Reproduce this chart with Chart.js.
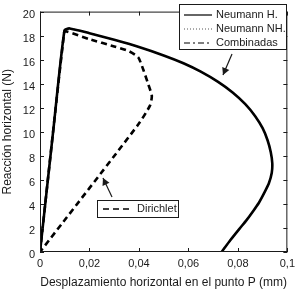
<!DOCTYPE html>
<html>
<head>
<meta charset="utf-8">
<script src="https://cdn.jsdelivr.net/npm/chart.js@4"></script>
<style>
  html, body { margin: 0; padding: 0; background: #fff; }
  #wrap { width: 300px; height: 293px; }
</style>
</head>
<body>
<div id="wrap"><canvas id="c" width="300" height="293"></canvas></div>
<script>
// values
const xTickLabels = ['0', '0,02', '0,04', '0,06', '0,08', '0,1'];
const yTickLabels = ['0', '2', '4', '6', '8', '10', '12', '14', '16', '18', '20'];

const neumannX = [0, 0.0052, 0.0099, 0.012, 0.02, 0.03, 0.04, 0.05, 0.058, 0.065, 0.072, 0.078, 0.083, 0.087, 0.090, 0.092, 0.0933, 0.0939, 0.0937, 0.0925, 0.0906, 0.0885, 0.086, 0.0835, 0.0807, 0.077, 0.0734];
const neumannY = [0, 9.8, 18.45, 18.6, 18.2, 17.65, 17.05, 16.35, 15.7, 15.0, 14.15, 13.25, 12.3, 11.3, 10.3, 9.3, 8.3, 7.4, 6.6, 5.7, 4.9, 4.1, 3.35, 2.65, 1.95, 1.0, 0];

const dirichletX = [0, 0.0098, 0.0108, 0.02, 0.03, 0.036, 0.0397, 0.0417, 0.0437, 0.0452, 0.0445, 0.0397, 0];
const dirichletY = [0, 18.3, 18.35, 17.7, 17.1, 16.7, 16.2, 15.2, 14.0, 13.0, 12.2, 10.6, 0];

// Neumann NH. and Combinadas lie on top of Neumann H. in the figure
const neumannNHX = neumannX;
const neumannNHY = neumannY;
const combinadasX = neumannX;
const combinadasY = neumannY;

const pts = (xs, ys) => xs.map((x, i) => ({ x: x, y: ys[i] }));

const FONT = "'Liberation Sans', Arial, Helvetica, sans-serif";
const INK = '#1a1a1a';

const decor = {
  id: 'decor',
  afterDraw(chart) {
    const ctx = chart.ctx;
    const a = chart.chartArea;
    const xs = chart.scales.x, ys = chart.scales.y;
    ctx.save();
    ctx.strokeStyle = INK;
    ctx.lineWidth = 1;
    // frame
    ctx.strokeRect(a.left + 0.5, a.top + 0.5, a.right - a.left - 1, a.bottom - a.top - 1);
    // inward ticks
    ctx.beginPath();
    xs.ticks.forEach(t => {
      const px = Math.round(xs.getPixelForValue(t.value)) + 0.5;
      ctx.moveTo(px, a.bottom); ctx.lineTo(px, a.bottom - 4);
      ctx.moveTo(px, a.top); ctx.lineTo(px, a.top + 4);
    });
    ys.ticks.forEach(t => {
      const py = Math.round(ys.getPixelForValue(t.value)) + 0.5;
      ctx.moveTo(a.left, py); ctx.lineTo(a.left + 4, py);
      ctx.moveTo(a.right, py); ctx.lineTo(a.right - 4, py);
    });
    ctx.stroke();

    const ds = chart.data.datasets;
    function sample(d, x1, x2, y) {
      ctx.save();
      ctx.strokeStyle = d.borderColor;
      ctx.lineWidth = d.legendWidth || d.borderWidth;
      ctx.setLineDash(d.borderDash || []);
      ctx.beginPath(); ctx.moveTo(x1, y); ctx.lineTo(x2, y); ctx.stroke();
      ctx.restore();
    }
    ctx.font = '11px ' + FONT;
    ctx.fillStyle = INK;
    ctx.textBaseline = 'middle';
    ctx.textAlign = 'left';

    // legend box top right
    ctx.fillStyle = '#fff';
    ctx.fillRect(179.5, 4.5, 107, 45);
    ctx.strokeRect(179.5, 4.5, 107, 45);
    ctx.fillStyle = INK;
    const rows = [ds[0], ds[1], ds[2]];
    rows.forEach((d, i) => {
      const y = 15 + i * 14;
      sample(d, 184, 212, y);
      ctx.fillText(d.label, 216, y);
    });

    // Dirichlet box
    ctx.fillStyle = '#fff';
    ctx.fillRect(97.5, 200.5, 81, 17);
    ctx.strokeRect(97.5, 200.5, 81, 17);
    ctx.fillStyle = INK;
    sample(ds[3], 103, 133, 209);
    ctx.fillText(ds[3].label, 137, 209);

    // arrows
    function arrow(x1, y1, x2, y2) {
      ctx.save();
      ctx.strokeStyle = INK; ctx.fillStyle = INK; ctx.lineWidth = 1.2;
      ctx.beginPath(); ctx.moveTo(x1, y1); ctx.lineTo(x2, y2); ctx.stroke();
      const ang = Math.atan2(y2 - y1, x2 - x1);
      const L = 8, W = 0.5;
      ctx.beginPath();
      ctx.moveTo(x2, y2);
      ctx.lineTo(x2 - L * Math.cos(ang - W), y2 - L * Math.sin(ang - W));
      ctx.lineTo(x2 - L * Math.cos(ang + W), y2 - L * Math.sin(ang + W));
      ctx.closePath(); ctx.fill();
      ctx.restore();
    }
    arrow(232, 54, 223, 75);
    arrow(112, 197, 103, 178);
    ctx.restore();
  }
};

new Chart(document.getElementById('c'), {
  type: 'scatter',
  data: {
    datasets: [
      { label: 'Neumann H.', data: pts(neumannX, neumannY), showLine: true,
        borderColor: '#000', borderWidth: 2.6, legendWidth: 1.2, pointRadius: 0, tension: 0.2 },
      { label: 'Neumann NH.', data: pts(neumannNHX, neumannNHY), showLine: true,
        borderColor: '#555', borderWidth: 1, borderDash: [1, 2], pointRadius: 0, tension: 0.2 },
      { label: 'Combinadas', data: pts(combinadasX, combinadasY), showLine: true,
        borderColor: '#000', borderWidth: 1.2, borderDash: [6, 3, 2, 3], pointRadius: 0, tension: 0.2 },
      { label: 'Dirichlet', data: pts(dirichletX, dirichletY), showLine: true,
        borderColor: '#000', borderWidth: 2.6, legendWidth: 1.5, borderDash: [6, 4], pointRadius: 0, tension: 0.2 }
    ]
  },
  options: {
    responsive: false,
    animation: false,
    layout: { padding: { top: 2, right: 8, left: 0, bottom: 0 } },
    plugins: { legend: { display: false }, tooltip: { enabled: false } },
    scales: {
      x: {
        type: 'linear', min: 0, max: 0.1,
        grid: { display: false, drawTicks: false },
        border: { display: false },
        ticks: { stepSize: 0.02, padding: 5, color: INK, font: { family: FONT, size: 11 },
          maxRotation: 0, callback: (v, i) => xTickLabels[i] },
        title: { display: true, text: 'Desplazamiento horizontal en el punto P (mm)', color: INK,
          font: { family: FONT, size: 12 }, padding: { top: 0, bottom: 3 } },
        afterFit: s => { s.height = 41; }
      },
      y: {
        type: 'linear', min: 0, max: 20,
        grid: { display: false, drawTicks: false },
        border: { display: false },
        ticks: { stepSize: 2, padding: 5, labelOffset: 3, color: INK, font: { family: FONT, size: 11 },
          callback: (v, i) => yTickLabels[i] },
        title: { display: true, text: 'Reacción horizontal (N)', color: INK,
          font: { family: FONT, size: 12 }, padding: { top: 0, bottom: 0 } },
        afterFit: s => { s.width = 40; }
      }
    }
  },
  plugins: [decor]
});
</script>
</body>
</html>
